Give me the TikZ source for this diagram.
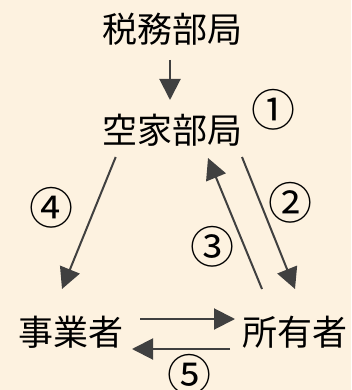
\documentclass[tikz,border=0pt]{standalone}
\usepackage{fontspec}
\setmainfont{Noto Sans CJK JP}
\usetikzlibrary{arrows.meta}
\definecolor{bg}{HTML}{FDF2E0}
\definecolor{arr}{HTML}{404040}
\begin{document}
\begin{tikzpicture}[x=1pt,y=-1pt,
  lbl/.style={font=\fontsize{35}{35}\selectfont, inner sep=0pt, anchor=center},
  num/.style={font=\fontsize{44}{44}\selectfont, inner sep=0pt, anchor=center},
  conn/.style={draw=arr, line width=2pt, -{Triangle[length=21pt,width=21pt]}}]
\fill[bg] (0,0) rectangle (351,390);
\useasboundingbox (0,0) rectangle (351,390);
\node[lbl] (zeimu) at (172,29) {税務部局};
\node[lbl] (akiya) at (172,130) {空家部局};
\node[lbl] (jigyo) at (71,332) {事業者};
\node[lbl] (shoyu) at (295,332) {所有者};
\node[num] (n1) at (273,110) {①};
\node[num] (n2) at (290,203) {②};
\node[num] (n3) at (212,247) {③};
\node[num] (n4) at (51,208) {④};
\node[num] (n5) at (189,375) {⑤};
\coordinate (a1s) at (170,60);
\coordinate (a1e) at (170,100);
\coordinate (a4s) at (115.7,157);
\coordinate (a4e) at (62,289);
\coordinate (a3s) at (262,289);
\coordinate (a3e) at (208,158);
\coordinate (a2s) at (242,157);
\coordinate (a2e) at (295,289);
\coordinate (ats) at (140,319);
\coordinate (ate) at (235,319);
\coordinate (abs) at (230,349);
\coordinate (abe) at (132,349);
\draw[conn] (a1s) -- (a1e);
\draw[conn] (a4s) -- (a4e);
\draw[conn] (a3s) -- (a3e);
\draw[conn] (a2s) -- (a2e);
\draw[conn] (ats) -- (ate);
\draw[conn] (abs) -- (abe);
\end{tikzpicture}
\end{document}
